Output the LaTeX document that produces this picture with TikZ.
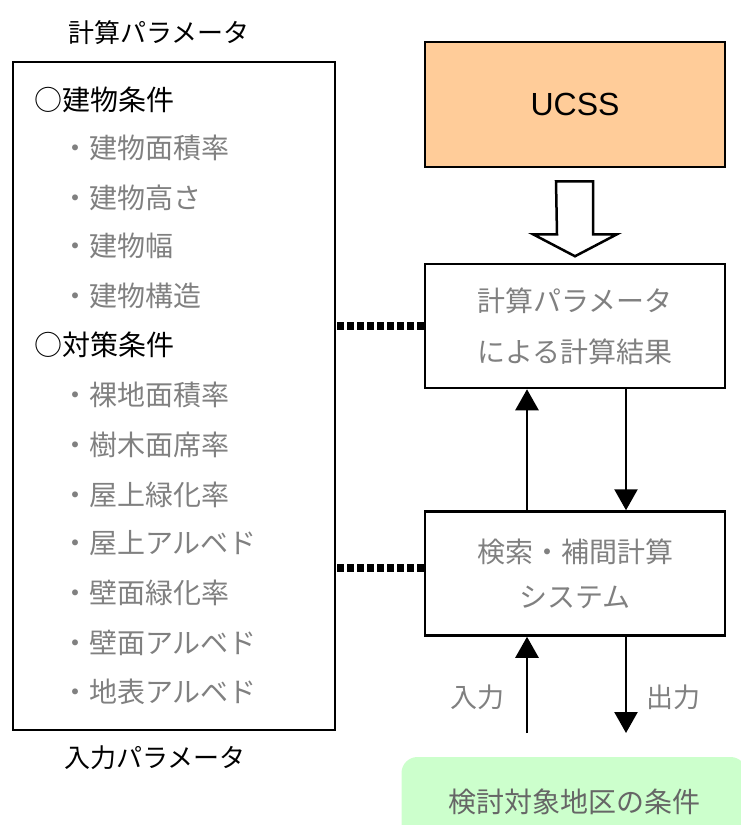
\documentclass[tikz,border=0pt]{standalone}
\usepackage{fontspec}
\setmainfont{Noto Sans CJK JP}
\newfontfamily\latinsans{Liberation Sans}
\usepackage{tikz}
\usetikzlibrary{arrows.meta, calc, positioning}

\definecolor{ucssorange}{HTML}{FFCC99}
\definecolor{sitegreen}{HTML}{CCFFCC}

\begin{document}
\begin{tikzpicture}[x=1pt, y=-1pt,
		box/.style={draw, line width=2.5pt, minimum width=300pt, minimum height=124pt, inner sep=0pt, align=center},
		item/.style={anchor=west, inner sep=0pt, text=black!50, font=\fontsize{28}{28}\selectfont},
		head/.style={anchor=west, inner sep=0pt, font=\fontsize{28}{28}\selectfont},
		link/.style={line width=8pt, dash pattern=on 7pt off 3pt},
		flow/.style={line width=2.5pt, -{Triangle[width=23pt, length=21pt]}}]
		\useasboundingbox (0,0) rectangle (740,825);
		% Parameter list
		\node[font=\fontsize{26}{26}\selectfont] (calctitle) at (159,33) {計算パラメータ};
		\node[draw, line width=2.5pt, minimum width=322pt, minimum height=668pt] (params) at (174,396) {};
		\node[font=\fontsize{26}{26}\selectfont] (inputtitle) at (155,758) {入力パラメータ};

		\node[head] (building) at (34,100) {○建物条件};
		\node[item] (b1) at (61,148) {・建物面積率};
		\node[item] (b2) at (61,198) {・建物高さ};
		\node[item] (b3) at (61,246) {・建物幅};
		\node[item] (b4) at (61,296) {・建物構造};
		\node[head] (measure) at (34,345) {○対策条件};
		\node[item] (m1) at (61,395) {・裸地面積率};
		\node[item] (m2) at (61,445) {・樹木面席率};
		\node[item] (m3) at (61,495) {・屋上緑化率};
		\node[item] (m4) at (61,543) {・屋上アルベド};
		\node[item] (m5) at (61,593) {・壁面緑化率};
		\node[item] (m6) at (61,643) {・壁面アルベド};
		\node[item] (m7) at (61,692) {・地表アルベド};

		% System boxes
		\node[box, fill=ucssorange, minimum height=125pt, font=\latinsans\fontsize{32}{32}\selectfont] (ucss) at (575,104.5) {UCSS};
		\node[box, text=black!50, font=\fontsize{28}{51}\selectfont] (result) at (575,326) {計算パラメータ\\による計算結果};
		\node[box, text=black!50, font=\fontsize{28}{45}\selectfont] (search) at (575,573.5) {検索・補間計算\\システム};
		\node[fill=sitegreen, rounded corners=16pt, minimum width=345pt, minimum height=90pt, text=black!60, font=\fontsize{28}{28}\selectfont] (site) at (574,802) {検討対象地区の条件};

		% Hollow arrow
		\draw[line width=2.5pt, fill=white] ($(ucss.south)+(-19,13)$) -- ++(37,0) -- ++(0,53) -- ++(24,0) -- ++(-42,22) -- ++(-42,-22) -- ++(24,0) -- cycle;

		% Links to parameters
		\draw[link] (result.west) -- (result.west -| params.east);
		\draw[link] ($(search.west)+(0,-6)$) -- ($(search.west -| params.east)+(0,-6)$);

		% Flow arrows
		\coordinate (inend) at (527,733);
		\coordinate (outend) at (626,733);
		\draw[flow] (search.north -| inend) -- (result.south -| inend);
		\draw[flow] (result.south -| outend) -- (search.north -| outend);
		\draw[flow] (inend) -- (search.south -| inend);
		\draw[flow] (search.south -| outend) -- (outend);

		\node[text=black!50, font=\fontsize{27}{27}\selectfont] (inlabel) at (477,697) {入力};
		\node[text=black!50, font=\fontsize{27}{27}\selectfont] (outlabel) at (673,697) {出力};
	\end{tikzpicture}
\end{document}
